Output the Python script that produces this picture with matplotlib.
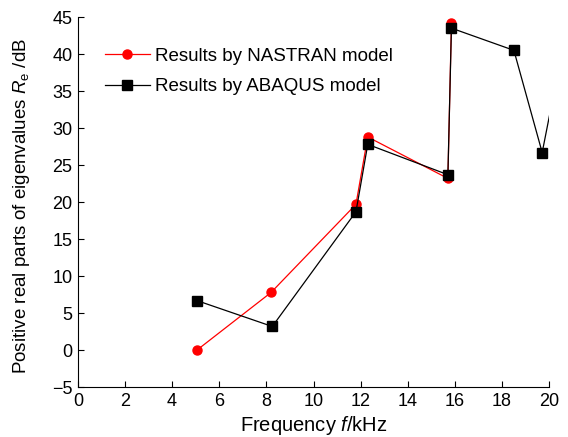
import numpy as np
import matplotlib.pyplot as plt

plt.rcParams['font.family'] = ['Liberation Sans', 'DejaVu Sans']
plt.rcParams['mathtext.fontset'] = 'custom'
plt.rcParams['mathtext.rm'] = 'Liberation Sans'
plt.rcParams['mathtext.it'] = 'Liberation Sans:italic'

# NASTRAN results
nastran_freq = [5.05, 8.2, 11.8, 12.3, 15.7, 15.85]
nastran_re = [0.0, 7.8, 19.7, 28.8, 23.2, 44.2]

# ABAQUS results (last point lies beyond the axis limit)
abaqus_freq = [5.05, 8.25, 11.8, 12.3, 15.7, 15.85, 18.5, 19.7, 20.4]
abaqus_re = [6.7, 3.2, 18.7, 27.8, 23.7, 43.5, 40.5, 26.7, 38.0]

fig = plt.figure(figsize=(5.68, 4.37), dpi=100)
ax = fig.add_axes([0.137, 0.114, 0.830, 0.847])

ax.plot(nastran_freq, nastran_re, color='red', linewidth=0.9, marker='o',
        markersize=6.5, markeredgecolor='red', markerfacecolor='red',
        label='Results by NASTRAN model', zorder=3)
ax.plot(abaqus_freq, abaqus_re, color='black', linewidth=0.9, marker='s',
        markersize=6.5, markeredgecolor='black', markerfacecolor='black',
        label='Results by ABAQUS model', zorder=4)

ax.set_xlim(0, 20)
ax.set_ylim(-5, 45)
ax.set_xticks(np.arange(0, 21, 2))
ax.set_yticks(np.arange(-5, 46, 5))
ax.tick_params(direction='in', length=4, labelsize=13, width=0.8, pad=4)
ax.spines['top'].set_visible(False)
ax.spines['right'].set_visible(False)

ax.set_xlabel(r'Frequency $f$/kHz', fontsize=14.5, labelpad=3)
ax.set_ylabel(r'Positive real parts of eigenvalues $R_{\mathrm{e}}$ /dB',
              fontsize=13.5)
ax.yaxis.set_label_coords(-0.098, 0.49)

ax.legend(loc='upper left', bbox_to_anchor=(0.057, 0.918), frameon=False,
          fontsize=13.5, handlelength=2.4, handletextpad=0.3,
          labelspacing=0.72, borderaxespad=0, borderpad=0)

fig.savefig('out.png', dpi=100)
